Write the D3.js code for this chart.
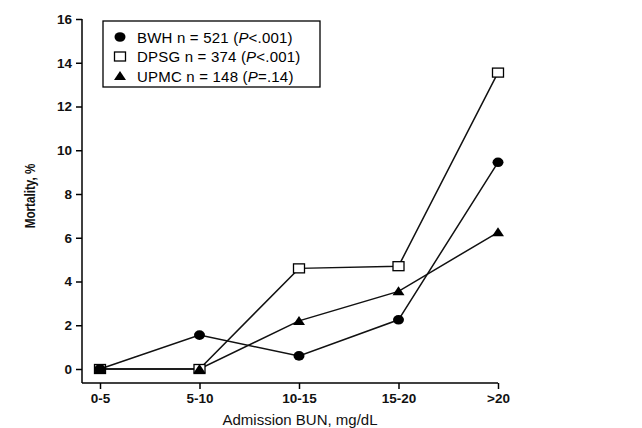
<!DOCTYPE html>
<html>
<head>
<meta charset="utf-8">
<script src="https://cdn.jsdelivr.net/npm/d3@7"></script>
<style>
  body { margin: 0; background: #fff; }
  svg { font-family: "Liberation Sans", Arial, sans-serif; }
</style>
</head>
<body>
<svg id="chart" width="642" height="428"></svg>
<script>
// data
const categories = ["0-5", "5-10", "10-15", "15-20", ">20"]
const bwh = [0, 1.55, 0.6, 2.25, 9.45]
const dpsg = [0, 0, 4.6, 4.7, 13.55]
const upmc = [0, 0, 2.2, 3.55, 6.25]
const yTicks = [0, 2, 4, 6, 8, 10, 12, 14, 16]
const legendNames = ["BWH n = 521", "DPSG n = 374", "UPMC n = 148"]
const legendP = [["P", "<.001"], ["P", "<.001"], ["P", "=.14"]]

let svg = d3.select("#chart")

let x = d3.scalePoint()
    .domain(categories)
    .range([100, 498])

let y = d3.scaleLinear()
    .domain([0, 16])
    .range([369, 19])

// y axis
let yAxis = svg.append("g")
    .attr("transform", "translate(82,0)")
    .call(d3.axisLeft(y).tickValues(yTicks).tickSize(6).tickPadding(4))
yAxis.select(".domain").attr("d", "M0," + y(16) + "V383")
yAxis.selectAll("text").attr("font-size", 13.5).attr("font-weight", "bold").attr("fill", "#111")
    .attr("font-family", "Liberation Sans, Arial, sans-serif")

// x axis
let xAxis = svg.append("g")
    .attr("transform", "translate(0,383)")
    .call(d3.axisBottom(x).tickSize(6).tickPadding(4))
xAxis.select(".domain").attr("d", "M82,0H498")
xAxis.selectAll("text").attr("font-size", 13.5).attr("font-weight", "bold").attr("fill", "#111")
    .attr("font-family", "Liberation Sans, Arial, sans-serif")
svg.selectAll(".domain, .tick line").attr("stroke", "#000").attr("stroke-width", 1.5)

// axis titles
svg.append("text").attr("x", 300).attr("y", 425).attr("text-anchor", "middle")
    .attr("font-size", 15).attr("fill", "#111").text("Admission BUN, mg/dL")
svg.append("text")
    .attr("transform", "translate(35,196) rotate(270) scale(0.78,1)")
    .attr("text-anchor", "middle").attr("font-size", 15).attr("font-weight", "bold").attr("fill", "#111")
    .text("Mortality, %")

let line = d3.line()
    .x((d, i) => x(categories[i]))
    .y(d => y(d))

let series = [
    {values: dpsg, shape: "square"},
    {values: upmc, shape: "triangle"},
    {values: bwh, shape: "circle"}
]

for (let s of series) {
    svg.append("path")
        .attr("d", line(s.values))
        .attr("fill", "none")
        .attr("stroke", "#111")
        .attr("stroke-width", 1.5)
}

function drawMarker(g, shape, cx, cy) {
    if (shape == "circle") {
        g.append("ellipse").attr("cx", cx).attr("cy", cy).attr("rx", 5.5).attr("ry", 4.8).attr("fill", "#000")
    } else if (shape == "square") {
        g.append("rect").attr("x", cx - 5.5).attr("y", cy - 4.5).attr("width", 11).attr("height", 9)
            .attr("fill", "#fff").attr("stroke", "#000").attr("stroke-width", 1.3)
    } else {
        g.append("path").attr("d", "M" + cx + "," + (cy - 5) + "L" + (cx + 6) + "," + (cy + 4) + "L" + (cx - 6) + "," + (cy + 4) + "Z")
            .attr("fill", "#000")
    }
}

let marks = svg.append("g")
for (let s of series) {
    s.values.forEach((d, i) => drawMarker(marks, s.shape, x(categories[i]), y(d)))
}

// legend
let legend = svg.append("g")
legend.append("rect").attr("x", 103).attr("y", 21).attr("width", 217).attr("height", 66)
    .attr("fill", "#fff").attr("stroke", "#000").attr("stroke-width", 1.3)
let legendShapes = ["circle", "square", "triangle"]
legendNames.forEach((name, i) => {
    let ly = 37 + i * 19.5
    drawMarker(legend, legendShapes[i], 120, ly)
    let t = legend.append("text").attr("x", 137).attr("y", ly + 5.5).attr("font-size", 15)
        .attr("letter-spacing", 0.2).attr("fill", "#000")
    t.append("tspan").text(name + " (")
    t.append("tspan").attr("font-style", "italic").text(legendP[i][0])
    t.append("tspan").text(legendP[i][1] + ")")
})
</script>
</body>
</html>
